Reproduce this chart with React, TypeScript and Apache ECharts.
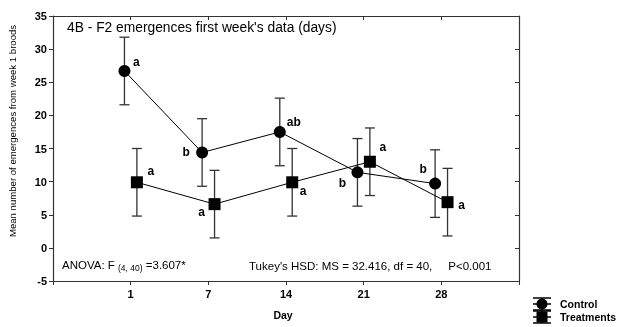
import React, { useEffect, useRef } from "react";
import * as echarts from "echarts";

const days = ["1", "7", "14", "21", "28"];
const controlMean = [26.7, 14.4, 17.5, 11.4, 9.7];
const controlErr = [5.1, 5.1, 5.1, 5.1, 5.1];
const controlLetters = ["a", "b", "ab", "b", "b"];
const treatMean = [9.9, 6.6, 9.9, 13.0, 6.9];
const treatErr = [5.1, 5.1, 5.1, 5.1, 5.1];
const treatLetters = ["a", "a", "a", "a", "a"];

const controlLabelOffsets = [[12, -9], [-16, 0], [14, -10], [-15, 11], [-12, -15]];
const treatLabelOffsets = [[14, -11], [-13, 8], [11, 9], [13, -15], [14, 3]];

const FONT = "Arial, 'Liberation Sans', sans-serif";
const AX = "#333";

export default function App() {
  const ref = useRef<HTMLDivElement>(null);
  useEffect(() => {
    const chart = echarts.init(ref.current!, null, { renderer: "svg" });
    const cOff = -0.08;
    const tOff = 0.08;
    const mkLine = (means: number[], letters: string[], offs: number[][], off: number, symbol: string, name: string) => ({
      type: "line",
      name,
      symbol,
      symbolSize: 12,
      z: 5,
      itemStyle: { color: "#000" },
      lineStyle: { color: "#000", width: 1 },
      data: means.map((m, i) => ({
        value: [i + 1 + off, m],
        label: {
          show: true,
          position: "inside",
          formatter: letters[i],
          offset: offs[i],
          fontFamily: FONT,
          fontWeight: "bold",
          fontSize: 12,
          color: "#000",
        },
      })),
    });
    const mkErr = (means: number[], errs: number[], off: number) => ({
      type: "custom",
      z: 3,
      data: means.map((m, i) => [i + 1 + off, m - errs[i], m + errs[i]]),
      encode: { x: 0, y: [1, 2] },
      renderItem: (params: any, api: any) => {
        const x = api.value(0);
        const top = api.coord([x, api.value(2)]);
        const bot = api.coord([x, api.value(1)]);
        const w = 5;
        const st = { stroke: AX, lineWidth: 1.3 };
        return {
          type: "group",
          children: [
            { type: "line", shape: { x1: top[0], y1: top[1], x2: bot[0], y2: bot[1] }, style: st },
            { type: "line", shape: { x1: top[0] - w, y1: top[1], x2: top[0] + w, y2: top[1] }, style: st },
            { type: "line", shape: { x1: bot[0] - w, y1: bot[1], x2: bot[0] + w, y2: bot[1] }, style: st },
          ],
        };
      },
    });
    const legendIcon = (cy: number, shape: string) => {
      const cx = 542;
      const st = { stroke: "#000", lineWidth: 1.5 };
      const children: any[] = [
        { type: "line", shape: { x1: cx, y1: cy - 6, x2: cx, y2: cy + 6 }, style: st },
        { type: "line", shape: { x1: cx - 9, y1: cy - 6, x2: cx + 9, y2: cy - 6 }, style: st },
        { type: "line", shape: { x1: cx - 9, y1: cy + 6, x2: cx + 9, y2: cy + 6 }, style: st },
        { type: "line", shape: { x1: cx - 9, y1: cy, x2: cx + 9, y2: cy }, style: st },
      ];
      if (shape === "circle") children.push({ type: "circle", shape: { cx, cy, r: 5.5 }, style: { fill: "#000" } });
      else children.push({ type: "rect", shape: { x: cx - 5.5, y: cy - 5.5, width: 11, height: 11 }, style: { fill: "#000" } });
      return { type: "group", children };
    };
    chart.setOption({
      animation: false,
      grid: { left: 53, top: 16, width: 466, height: 265, containLabel: false },
      xAxis: [
        {
          type: "value",
          min: 0,
          max: 6,
          interval: 1,
          axisLine: { show: true, onZero: false, lineStyle: { color: AX, width: 1.2 } },
          axisTick: { show: true, inside: false, length: 4, lineStyle: { color: AX } },
          splitLine: { show: false },
          axisLabel: {
            margin: 7,
            fontFamily: FONT,
            fontWeight: "bold",
            fontSize: 11,
            color: "#000",
            formatter: (v: number) => (v >= 1 && v <= days.length ? days[v - 1] : ""),
          },
        },
        {
          type: "value",
          position: "top",
          min: 0,
          max: 6,
          interval: 1,
          axisLine: { show: true, onZero: false, lineStyle: { color: AX, width: 1.2 } },
          axisTick: { show: true, inside: true, length: 4, lineStyle: { color: AX } },
          axisLabel: { show: false },
          splitLine: { show: false },
        },
      ],
      yAxis: [
        {
          type: "value",
          min: -5,
          max: 35,
          interval: 5,
          axisLine: { show: true, onZero: false, lineStyle: { color: AX, width: 1.2 } },
          axisTick: { show: true, inside: false, length: 4, lineStyle: { color: AX } },
          splitLine: { show: false },
          axisLabel: { margin: 6, fontFamily: FONT, fontWeight: "bold", fontSize: 11, color: "#000" },
        },
        {
          type: "value",
          position: "right",
          min: -5,
          max: 35,
          interval: 5,
          axisLine: { show: true, onZero: false, lineStyle: { color: AX, width: 1.2 } },
          axisTick: { show: true, inside: true, length: 4, lineStyle: { color: AX } },
          axisLabel: { show: false },
          splitLine: { show: false },
        },
      ],
      series: [
        mkErr(controlMean, controlErr, cOff),
        mkErr(treatMean, treatErr, tOff),
        mkLine(controlMean, controlLetters, controlLabelOffsets, cOff, "circle", "Control"),
        mkLine(treatMean, treatLetters, treatLabelOffsets, tOff, "rect", "Treatments"),
      ],
      graphic: [
        {
          type: "text",
          left: 67,
          top: 20,
          style: { text: "4B - F2 emergences first week's data (days)", font: `13.8px ${FONT}`, fill: "#000" },
        },
        {
          type: "text",
          x: 12,
          y: 131,
          rotation: Math.PI / 2,
          style: {
            text: "Mean number of emergences from week 1 broods",
            font: `9.6px ${FONT}`,
            fill: "#000",
            textAlign: "center",
            textVerticalAlign: "middle",
          },
        },
        {
          type: "text",
          x: 283,
          y: 315,
          style: { text: "Day", font: `bold 10.5px ${FONT}`, fill: "#000", textAlign: "center", textVerticalAlign: "middle" },
        },
        {
          type: "text",
          x: 62,
          y: 265,
          style: {
            text: "{a|ANOVA: F }{s|(4, 40)}{a| =3.607*}",
            textVerticalAlign: "middle",
            rich: {
              a: { font: `11.5px ${FONT}`, fill: "#000" },
              s: { font: `8.5px ${FONT}`, fill: "#000", padding: [5, 0, 0, 0] },
            },
          },
        },
        {
          type: "text",
          x: 249,
          y: 266,
          style: {
            text: "Tukey's HSD: MS = 32.416, df = 40,     P<0.001",
            font: `11.5px ${FONT}`,
            fill: "#000",
            textVerticalAlign: "middle",
          },
        },
        legendIcon(304, "circle"),
        legendIcon(317, "rect"),
        {
          type: "text",
          x: 560,
          y: 304,
          style: { text: "Control", font: `bold 10.5px ${FONT}`, fill: "#000", textVerticalAlign: "middle" },
        },
        {
          type: "text",
          x: 560,
          y: 317,
          style: { text: "Treatments", font: `bold 10.5px ${FONT}`, fill: "#000", textVerticalAlign: "middle" },
        },
      ],
    });
    return () => chart.dispose();
  }, []);
  return <div ref={ref} style={{ position: "fixed", left: 0, top: 0, width: 623, height: 327 }} />;
}
